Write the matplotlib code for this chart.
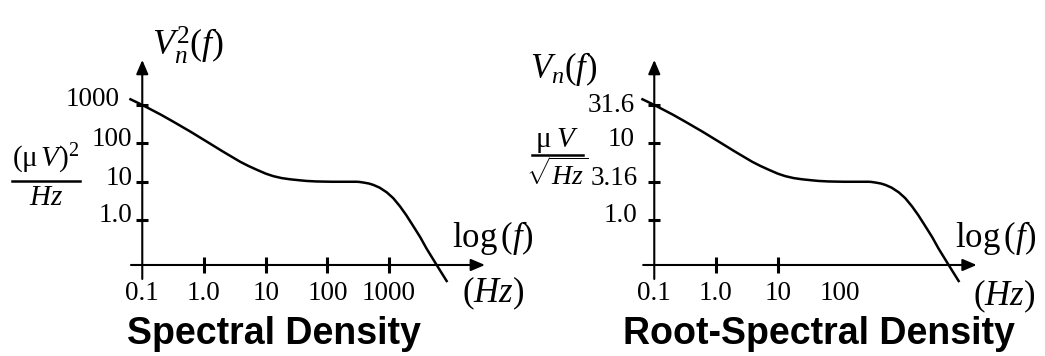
"""
Noise spectral density and root-spectral density sketches (log-log)
"""

import numpy as np
import matplotlib.pyplot as plt
from matplotlib.lines import Line2D

plt.rcParams['font.family'] = ['Liberation Serif', 'DejaVu Serif']
plt.rcParams['mathtext.fontset'] = 'custom'
plt.rcParams['mathtext.rm'] = 'Liberation Serif'
plt.rcParams['mathtext.it'] = 'Liberation Serif:italic'
plt.rcParams['mathtext.bf'] = 'Liberation Serif:bold'

# noise curve: 1/f region, white plateau at 10 (uV)^2/Hz, high-frequency roll-off
freq_hz = [0.0644, 0.1, 0.2, 0.318, 0.6, 1.11, 2.0, 3.83, 5.2, 7.15,
           10, 13.3, 18, 24.8, 36, 46, 65, 85, 120, 200,
           300, 330, 400, 470, 554, 700, 915, 1170, 1503, 1900,
           2467, 3200, 4066, 5904, 8576]
psd_uv2 = [1407, 1000, 559, 367, 203, 111, 62, 33.4, 26.0, 20.6,
           16.3, 14.0, 12.5, 11.6, 10.9, 10.5, 10.2, 10.1, 10.0, 10.0,
           10.0, 9.9, 9.44, 9.0, 8.3, 7.05, 5.32, 3.73, 2.29, 1.35,
           0.70, 0.36, 0.18, 0.068, 0.026]
rsd_uv = np.sqrt(psd_uv2)

# axis ticks and labels
psd_yticks = [1000, 100, 10, 1.0]
psd_ylabels = ['1000', '100', '10', '1.0']
rsd_yticks = [31.6, 10, 3.16, 1.0]
rsd_ylabels = ['31.6', '10', '3.16', '1.0']

psd_xticks = [1, 10, 100, 1000]
psd_xlabel_pos = [0.1, 1, 10, 100, 1000]
psd_xlabels = ['0.1', '1.0', '10', '100', '1000']
rsd_xticks = [1, 10]
rsd_xlabel_pos = [0.1, 1, 10, 100]
rsd_xlabels = ['0.1', '1.0', '10', '100']

W, H = 1045, 356
fig = plt.figure(figsize=(W / 100, H / 100), dpi=100)


def fx(px):
    return px / W


def fy(py):
    return 1 - py / H


arrow = dict(arrowstyle='-|>,head_length=0.7,head_width=0.3', color='black',
             lw=1.5, shrinkA=0, shrinkB=0, mutation_scale=12)


def panel(left_px, y, yticks, ylabels, ylab_off, xticks, xlab_pos, xlabels,
          ylim, xaxis_y, yaxis_span, xaxis_span):
    ax = fig.add_axes([fx(left_px), fy(285.4), fx(370.2), 230.4 / H])
    ax.set_xscale('log')
    ax.set_yscale('log')
    ax.set_xlim(0.05, 5e4)
    ax.set_ylim(*ylim)
    ax.axis('off')

    # axes with arrow heads
    ax.annotate('', xy=(xaxis_span[1], xaxis_y), xytext=(xaxis_span[0], xaxis_y),
                arrowprops=arrow, annotation_clip=False)
    ax.annotate('', xy=(0.1, yaxis_span[1]), xytext=(0.1, yaxis_span[0]),
                arrowprops=arrow, annotation_clip=False)

    # tick marks
    ax.plot([0.1] * len(yticks), yticks, ls='none', marker='_', ms=9,
            mew=2.2, color='black', clip_on=False)
    ax.plot(xticks, [xaxis_y] * len(xticks), ls='none', marker='|', ms=12,
            mew=2.2, color='black', clip_on=False)

    for v, lab, (dx, dy) in zip(yticks, ylabels, ylab_off):
        ax.annotate(lab, xy=(0.1, v), xytext=(dx, dy), textcoords='offset points',
                    ha='right', va='baseline', fontsize=19.5)
    for f, lab in zip(xlab_pos, xlabels):
        ax.annotate(lab, xy=(f, xaxis_y), xytext=(0, -25), textcoords='offset points',
                    ha='center', va='baseline', fontsize=19.5)

    ax.plot(freq_hz, y, color='black', lw=1.8, clip_on=False,
            solid_joinstyle='round')
    return ax


# spectral density, (uV)^2/Hz
panel(123.7, psd_uv2, psd_yticks, psd_ylabels,
      [(-16, -1), (-7, -2), (-7, -2), (-7, -1.5)],
      psd_xticks, psd_xlabel_pos, psd_xlabels,
      (0.02, 2e4), 0.068, (0.0294, 14860), (0.0656, 35800))

# root-spectral density, uV/sqrt(Hz)
panel(635.7, rsd_uv, rsd_yticks, rsd_ylabels,
      [(-14, -5), (-14, -2), (-12, -2), (-12, -1.5)],
      rsd_xticks, rsd_xlabel_pos, rsd_xlabels,
      (np.sqrt(0.02), np.sqrt(2e4)), np.sqrt(0.068),
      (np.sqrt(0.0294), np.sqrt(14860)), (0.066, 16800))

# axis titles
fig.text(fx(152), fy(55), r'$V_n^2(f)$', fontsize=26, ha='left', va='baseline')
fig.text(fx(530), fy(78), r'$V_n(f)$', fontsize=25, ha='left', va='baseline')

fig.text(fx(46), fy(167), r'$(\mathrm{\mu}\,V)^2$', fontsize=21, ha='center', va='baseline')
fig.add_artist(Line2D([fx(12), fx(80)], [fy(181), fy(181)], color='black', lw=1.8))
fig.text(fx(46), fy(205), r'$Hz$', fontsize=21, ha='center', va='baseline')

fig.text(fx(557), fy(147), r'$\mathrm{\mu}\;V$', fontsize=21, ha='center', va='baseline')
fig.add_artist(Line2D([fx(532), fx(583)], [fy(155), fy(155)], color='black', lw=1.8))
fig.text(fx(557), fy(185), r'$\sqrt{Hz}$', fontsize=20, ha='center', va='baseline')

for x0 in (452, 955):
    fig.text(fx(x0), fy(247), r'$\mathrm{log}\,(f)$', fontsize=25, ha='left', va='baseline')
for x0, yb in ((462, 302), (973, 305)):
    fig.text(fx(x0), fy(yb), r'$(Hz)$', fontsize=25, ha='left', va='baseline')

# panel titles
fig.text(fx(274), fy(344), 'Spectral Density', fontsize=27, fontweight='bold',
         family='Liberation Sans', ha='center', va='baseline')
fig.text(fx(819), fy(344), 'Root-Spectral Density', fontsize=27, fontweight='bold',
         family='Liberation Sans', ha='center', va='baseline')

fig.savefig('out.png', dpi=100)
plt.close(fig)
